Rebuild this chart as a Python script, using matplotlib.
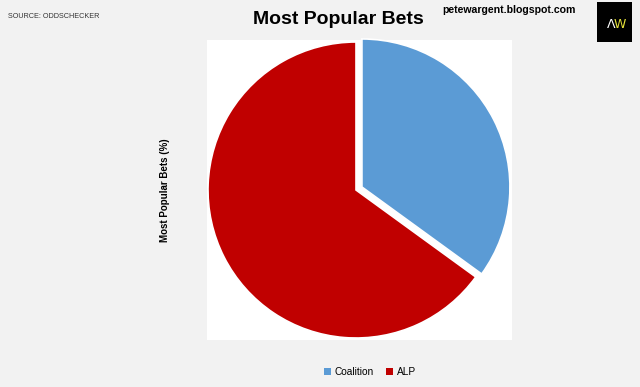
import matplotlib
matplotlib.use("Agg")
import matplotlib.pyplot as plt
from matplotlib.patches import Rectangle, Patch

labels = ["Coalition", "ALP"]
values = [35, 65]
colors = ["#5b9bd5", "#c00000"]
explode = [0.045, 0.0]

W, H = 640, 387
fig = plt.figure(figsize=(6.4, 3.87), dpi=100)
fig.patch.set_facecolor("#f2f2f2")

# plot area in pixels
x0, x1, ytop, ybot = 207, 512, 40, 340
ax = fig.add_axes([x0 / W, (H - ybot) / H, (x1 - x0) / W, (ybot - ytop) / H])
cx, cy, r = 356, 190, 148
ax.pie(values, colors=colors, startangle=90, counterclock=False, explode=explode,
       wedgeprops=dict(edgecolor="white", linewidth=1.2), radius=1.0)
ax.set_frame_on(True)
ax.patch.set_visible(True)
ax.set_facecolor("white")
ax.set_aspect("auto")
ax.set_xlim(-(cx - x0) / r, (x1 - cx) / r)
ax.set_ylim(-(ybot - cy) / r, (cy - ytop) / r)
ax.set_xticks([])
ax.set_yticks([])
for s in ax.spines.values():
    s.set_visible(False)

fs = ["Liberation Sans Narrow", "Liberation Sans", "DejaVu Sans"]
fig.text(338 / W, 1 - 20 / H, "Most Popular Bets", ha="center", va="center",
         fontsize=14, fontweight="bold", family=fs)
fig.text(509 / W, 1 - 10 / H, "petewargent.blogspot.com", ha="center", va="center",
         fontsize=7.6, fontweight="bold", family=["Liberation Sans", "DejaVu Sans"])
fig.text(8 / W, 1 - 17 / H, "SOURCE: ODDSCHECKER", ha="left", va="center",
         fontsize=5.2, color="#333333", family=["Liberation Sans", "DejaVu Sans"])
fig.text(165 / W, 1 - 190 / H, "Most Popular Bets (%)", ha="center", va="center",
         rotation=90, fontsize=7, fontweight="bold", family=["Liberation Sans", "DejaVu Sans"])

# logo
fig.patches.append(Rectangle((597 / W, 1 - 42 / H), 35 / W, 40 / H,
                             transform=fig.transFigure, facecolor="black", edgecolor="none"))
fig.text(611 / W, 1 - 24 / H, "Λ", ha="center", va="center", color="white",
         fontsize=9, family=["DejaVu Sans"])
fig.text(620 / W, 1 - 24 / H, "W", ha="center", va="center", color="#e6e23a",
         fontsize=9, family=["DejaVu Sans"])

handles = [Patch(facecolor=c, edgecolor="none") for c in colors]
fig.legend(handles, labels, loc="center", bbox_to_anchor=(370 / W, 1 - 372 / H),
           ncol=2, frameon=False, handlelength=0.7, handleheight=0.7,
           handletextpad=0.4, columnspacing=1.2,
           prop={"family": ["Liberation Sans", "DejaVu Sans"], "size": 7.3})

fig.savefig("out.png", dpi=100, facecolor=fig.get_facecolor())
